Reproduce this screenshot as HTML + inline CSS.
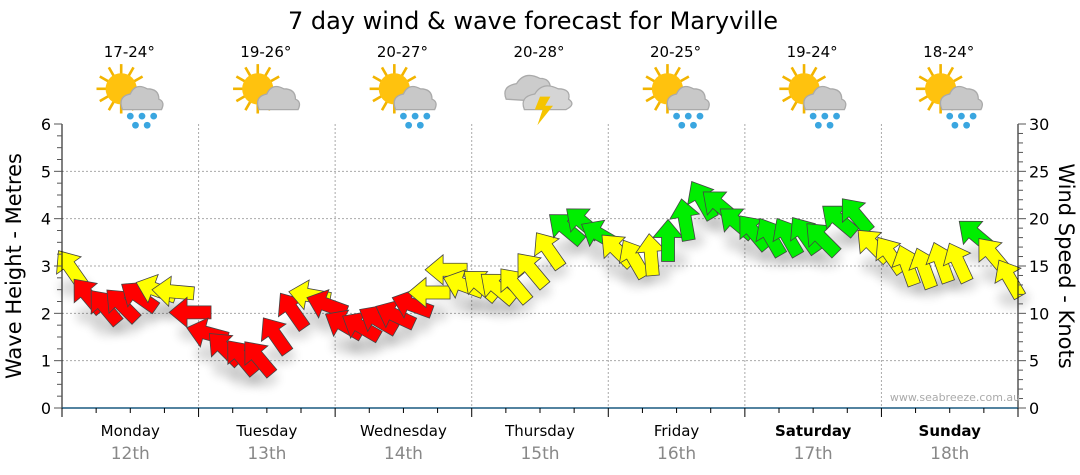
<!DOCTYPE html>
<html><head><meta charset="utf-8">
<style>
body{margin:0;background:#fff;}
svg{display:block;font-family:"DejaVu Sans","Liberation Sans",sans-serif;}
</style></head>
<body>
<svg id="chart" width="1080" height="475" viewBox="0 0 1080 475">
<defs>
<filter id="sh" x="-50%" y="-50%" width="200%" height="200%"><feGaussianBlur stdDeviation="5"/></filter>
</defs>
<text x="533" y="29" font-size="24" text-anchor="middle" fill="#000">7 day wind &amp; wave forecast for Maryville</text>
<g id="grid"></g>
<g id="icons"></g>
<g id="shadows"></g>
<g id="arrows"></g>
<g id="axes"></g>
<text transform="translate(21,266) rotate(-90)" font-size="21" text-anchor="middle">Wave Height - Metres</text>
<text transform="translate(1059,266) rotate(90)" font-size="21" text-anchor="middle">Wind Speed - Knots</text>
<text x="955" y="401" font-size="11" fill="#aaa" text-anchor="middle">www.seabreeze.com.au</text>
</svg>
<script>
const days=["Monday","Tuesday","Wednesday","Thursday","Friday","Saturday","Sunday"];
const dates=["12th","13th","14th","15th","16th","17th","18th"];
const temps=["17-24°","19-26°","20-27°","20-28°","20-25°","19-24°","18-24°"];
const iconTypes=["rain","cloud","rain","storm","rain","rain","rain"];
const waveTicks=[0,1,2,3,4,5,6];
const windTicks=[0,5,10,15,20,25,30];
// wind speed (knots), one every 3 hours
const windSpeed=[14.8,11.9,10.7,10.9,11.8,12.5,12.3,10.1,
 7.9,6.3,5.4,5.3,7.7,10.3,11.9,10.9,
 8.8,8.6,9.3,9.8,10.9,12.2,14.6,13.0,
 13.0,12.7,13.0,14.6,16.7,19.0,19.6,18.3,
 16.7,15.8,16.2,17.7,19.9,22.0,21.4,19.6,
 18.6,18.1,18.1,18.3,17.9,19.9,20.4,17.2,
 16.2,15.1,14.8,15.4,15.4,18.3,16.2,13.7];
// arrow heading in degrees (0 = up, negative = towards left)
const windDir=[-35,-40,-40,-45,-55,-70,-85,-90,
 -75,-45,-40,-40,-35,-35,-80,-70,
 -60,-60,-60,-65,-70,-90,-90,-70,
 -50,-50,-40,-40,-35,-50,-50,-60,
 -45,-30,-5,0,-10,-30,-50,-50,
 -40,-30,-30,-35,-45,-50,-40,-45,
 -35,-20,-20,-20,-25,-50,-40,-30];
const windColor=["Y","R","R","R","R","Y","Y","R",
 "R","R","R","R","R","R","Y","R",
 "R","R","R","R","R","Y","Y","Y",
 "Y","Y","Y","Y","Y","G","G","G",
 "Y","Y","Y","G","G","G","G","G",
 "G","G","G","G","G","G","G","Y",
 "Y","Y","Y","Y","Y","G","Y","Y"];

const NS="http://www.w3.org/2000/svg";
const X0=62,X1=1018,Y0=408,Y1=124,DW=(X1-X0)/7;
const xHour=h=>X0+h/24*DW;
const yWave=m=>Y0-m/6*(Y0-Y1);
const yWind=k=>Y0-k/30*(Y0-Y1);
function mk(tag,attrs,parent){const e=document.createElementNS(NS,tag);for(const k in attrs)e.setAttribute(k,attrs[k]);parent.appendChild(e);return e;}
const grid=document.getElementById('grid'),axes=document.getElementById('axes'),icons=document.getElementById('icons');
waveTicks.forEach(v=>{if(v>0&&v<6){const l=mk('line',{x1:X0,x2:X1,y1:yWave(v),y2:yWave(v),stroke:'#aaa','stroke-dasharray':'2,2'},grid);

}});
for(let d=1;d<7;d++){const l=mk('line',{x1:X0+d*DW,x2:X0+d*DW,y1:Y1,y2:Y0,stroke:'#aaa','stroke-dasharray':'2,2'},grid);

}
mk('line',{x1:X0,x2:X0,y1:Y1,y2:Y0,stroke:'#000'},axes);
mk('line',{x1:X1,x2:X1,y1:Y1,y2:Y0,stroke:'#000'},axes);
for(let i=0;i<=24;i++){const y=yWave(i/4);mk('line',{x1:i%4?X0-5:X0-8,x2:X0,y1:y,y2:y,stroke:'#555'},axes);}
for(let i=0;i<=30;i++){const y=yWind(i);mk('line',{x1:X1,x2:i%5?X1+5:X1+8,y1:y,y2:y,stroke:'#555'},axes);}
waveTicks.forEach(v=>{const t=mk('text',{x:X0-11,y:yWave(v)+6,'font-size':16,'text-anchor':'end'},axes);t.textContent=v;

});
windTicks.forEach(v=>{const t=mk('text',{x:X1+11,y:yWind(v)+6,'font-size':16},axes);t.textContent=v;

});
mk('line',{x1:X0,x2:X1,y1:Y0,y2:Y0,stroke:'#1a5a80','stroke-width':1.5},axes);
for(let i=0;i<=28;i++){const x=X0+i*DW/4;mk('line',{x1:x,x2:x,y1:Y0,y2:i%4?Y0+5:Y0+9,stroke:'#000'},axes);}
days.forEach((d,i)=>{const cx=X0+(i+0.5)*DW;
const t=mk('text',{x:cx,y:436,'font-size':15,'text-anchor':'middle','font-weight':i>=5?'bold':'normal'},axes);t.textContent=d;


const t2=mk('text',{x:cx,y:459,'font-size':17,'text-anchor':'middle',fill:'#888'},axes);t2.textContent=dates[i];


const t3=mk('text',{x:cx-1,y:57,'font-size':15,'text-anchor':'middle'},icons);t3.textContent=temps[i];


const g=mk('g',{transform:`translate(${cx},94) scale(1.3)`},icons);


if(iconTypes[i]!=='storm'){
 for(let a=0;a<12;a++){const ang=a*30*Math.PI/180;mk('line',{x1:-7+Math.cos(ang)*10,y1:-4+Math.sin(ang)*10,x2:-7+Math.cos(ang)*19,y2:-4+Math.sin(ang)*19,stroke:'#f2b400','stroke-width':2},g);}
 mk('circle',{cx:-7,cy:-4,r:12,fill:'#ffc20e'},g);
 mk('path',{d:'M-6 12 Q-10 2 0 0 Q4 -9 13 -4 Q22 -4 22 4 Q27 6 24 12 Z',fill:'#c8c8c8',stroke:'#aaa'},g);
 if(iconTypes[i]==='rain'){[[0,17],[9,17],[18,17],[4,24],[13,24]].forEach(p=>mk('circle',{cx:p[0],cy:p[1],r:2.6,fill:'#3aa6e0'},g));}
}else{
 mk('path',{d:'M-26 4 Q-30 -6 -18 -8 Q-12 -18 0 -12 Q8 -12 8 -4 Q12 2 6 6 Z',fill:'#ccc',stroke:'#aaa'},g);
 mk('path',{d:'M-12 12 Q-16 2 -4 0 Q2 -10 14 -4 Q24 -4 22 4 Q28 8 20 12 Z',fill:'#d5d5d5',stroke:'#aaa'},g);
 mk('path',{d:'M0 2 L8 2 L4 9 L10 9 L-2 24 L2 12 L-4 12 Z',fill:'#f5c400'},g);
}
});
const colors={R:'#ff0000',Y:'#ffff00',G:'#00ee00'};
const sh=document.getElementById('shadows'),ar=document.getElementById('arrows');
const shape='M0 -21 L15 -3 L6.5 -3 L6.5 21 L-6.5 21 L-6.5 -3 L-15 -3 Z';
windSpeed.forEach((k,i)=>{
 const x=xHour(i*3+1.5),y=yWind(k);
 const s=mk('ellipse',{cx:x+4,cy:y+20,rx:16,ry:9,fill:'#000',opacity:0.15,filter:'url(#sh)'},sh);
 
 
 const p=mk('path',{d:shape,transform:`translate(${x},${y}) rotate(${windDir[i]})`,fill:colors[windColor[i]],stroke:'#444','stroke-width':0.8},ar);
 
 
});
</script>
</body></html>
